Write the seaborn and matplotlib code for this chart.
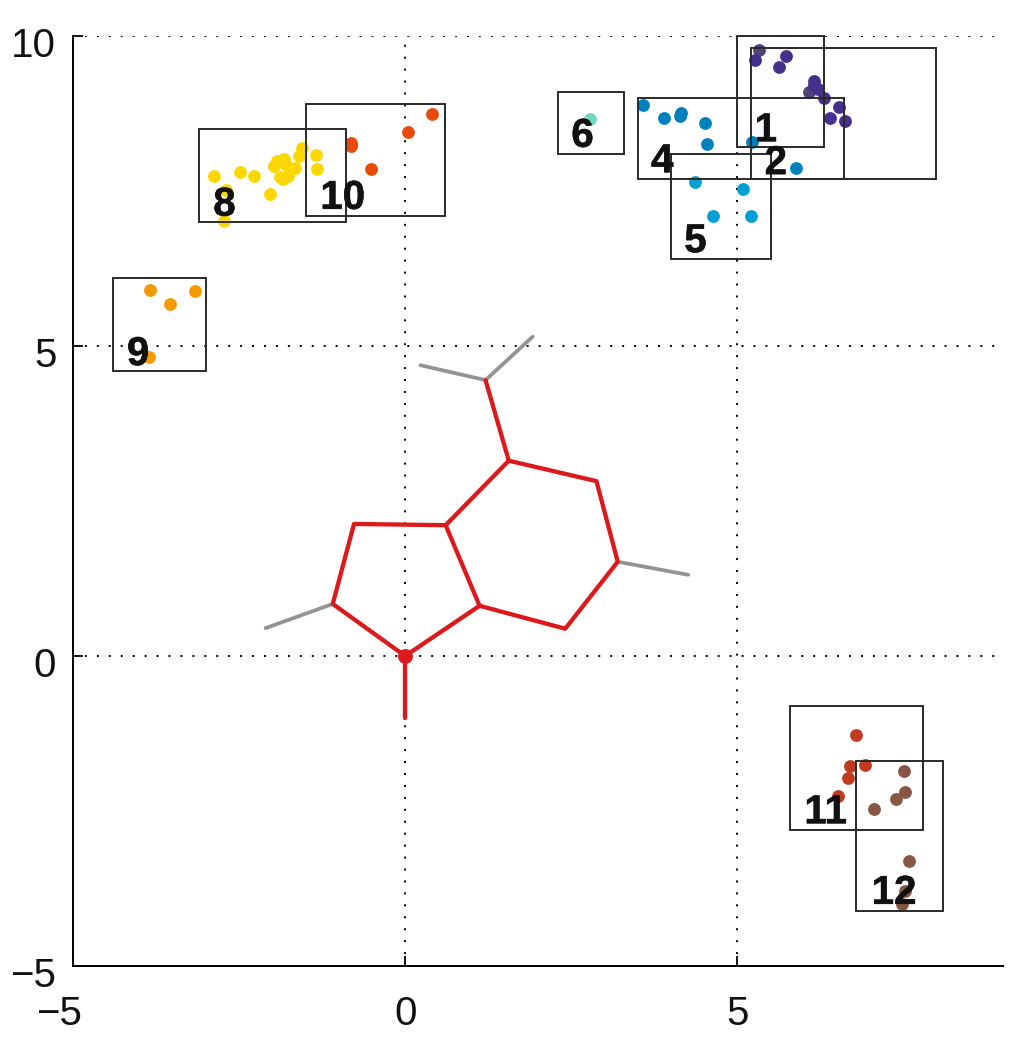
import matplotlib
matplotlib.use("Agg")
import matplotlib.pyplot as plt
import matplotlib.patheffects as pe
import seaborn as sns
from matplotlib.patches import Rectangle
from matplotlib.transforms import ScaledTranslation

# ---------- data ----------
cluster1_x = [5.32, 6.08]
cluster1_y = [9.77, 9.10]
cluster2_x = [5.27, 5.73, 5.63, 6.16, 6.16, 6.21, 6.30, 6.53, 6.39, 6.62]
cluster2_y = [9.62, 9.67, 9.50, 9.27, 9.21, 9.14, 9.00, 8.86, 8.67, 8.63]
cluster4_x = [3.58, 3.89, 4.16, 4.14, 4.52, 4.55, 5.22, 5.88]
cluster4_y = [8.89, 8.68, 8.76, 8.71, 8.60, 8.26, 8.29, 7.87]
cluster5_x = [4.37, 5.09, 4.63, 5.20]
cluster5_y = [7.65, 7.53, 7.10, 7.09]
cluster6_x = [2.78]
cluster6_y = [8.66]
cluster8_x = [-2.88, -2.70, -2.73, -2.49, -2.28, -2.04, -1.60, -1.56, -1.34, -1.33,
              -1.66, -1.76, -1.84, -1.89, -1.98, -1.93, -1.83, -1.80, -1.74]
cluster8_y = [7.74, 7.52, 7.01, 7.80, 7.74, 7.45, 8.06, 8.20, 8.08, 7.85,
              7.87, 7.74, 7.70, 7.73, 7.90, 7.99, 8.01, 7.92, 7.84]
cluster9_x = [-3.84, -3.54, -3.16, -3.86]
cluster9_y = [5.90, 5.68, 5.88, 4.83]
cluster10_x = [-0.82, -0.81, -0.51, 0.04, 0.40]
cluster10_y = [8.27, 8.23, 7.86, 8.45, 8.75]
cluster11_x = [6.78, 6.70, 6.92, 6.67, 6.51]
cluster11_y = [-1.27, -1.78, -1.76, -1.96, -2.26]
cluster12_x = [7.51, 7.52, 7.39, 7.06, 7.58, 7.53, 7.48]
cluster12_y = [-1.85, -2.20, -2.30, -2.46, -3.31, -3.79, -4.00]

cluster_colors = ["#50437a", "#46308e", "#0080bd", "#00a0d2", "#70d8c0",
                  "#fbd800", "#f29a00", "#e84a0a", "#c03a20", "#875644"]

# xmin, xmax, ymin, ymax
box_names = ["1", "2", "4", "5", "6", "8", "9", "10", "11", "12"]
box_x0 = [5.00, 5.20, 3.50, 4.00, 2.30, -3.10, -4.40, -1.50, 5.80, 6.79]
box_x1 = [6.30, 7.99, 6.60, 5.50, 3.30, -0.89, -3.00, 0.60, 7.80, 8.09]
box_y0 = [8.21, 7.70, 7.70, 6.40, 8.10, 7.00, 4.60, 7.10, -2.80, -4.11]
box_y1 = [10.0, 9.80, 9.00, 8.10, 9.10, 8.50, 6.10, 8.90, -0.80, -1.70]
label_x = [5.43, 5.58, 3.87, 4.37, 2.67, -2.72, -4.02, -0.94, 6.33, 7.36]
label_y = [8.48, 7.95, 7.98, 6.69, 8.39, 7.28, 4.87, 7.39, -2.52, -3.82]

# molecule backbone (red) and side groups (gray)
red_paths = [
    ([0, 0], [-1, 0]),
    ([0, -1.09, -0.77, 0.61, 1.12, 0], [0, 0.84, 2.13, 2.11, 0.81, 0]),
    ([0.61, 1.56, 2.88, 3.20, 2.41, 1.12], [2.11, 3.15, 2.82, 1.52, 0.44, 0.81]),
    ([1.56, 1.21], [3.15, 4.45]),
]
gray_paths = [
    ([0.23, 1.21, 1.92], [4.69, 4.45, 5.15]),
    ([3.20, 4.26], [1.52, 1.31]),
    ([-1.09, -2.10], [0.84, 0.45]),
]

x_ticks = [-5, 0, 5]
y_ticks = [-5, 0, 5, 10]

# ---------- style ----------
sns.set_theme(style="white")
plt.rcParams["font.family"] = ["Liberation Sans", "DejaVu Sans"]

fig = plt.figure(figsize=(10.26, 10.5), dpi=100)
ax = fig.add_axes([73 / 1026, 1 - 966 / 1050, 930 / 1026, 930 / 1050])

# ---------- molecule ----------
for px, py in gray_paths:
    sns.lineplot(x=px, y=py, sort=False, estimator=None, color="#939393", linewidth=2.7, ax=ax)
for px, py in red_paths:
    sns.lineplot(x=px, y=py, sort=False, estimator=None, color="#dc1a1c", linewidth=3.1, ax=ax)
sns.scatterplot(x=[0], y=[0], color="#dc1a1c", s=115, linewidth=0, ax=ax, zorder=4)

# ---------- clusters ----------
all_x = [cluster1_x, cluster2_x, cluster4_x, cluster5_x, cluster6_x,
         cluster8_x, cluster9_x, cluster10_x, cluster11_x, cluster12_x]
all_y = [cluster1_y, cluster2_y, cluster4_y, cluster5_y, cluster6_y,
         cluster8_y, cluster9_y, cluster10_y, cluster11_y, cluster12_y]
for cx, cy, col in zip(all_x, all_y, cluster_colors):
    sns.scatterplot(x=cx, y=cy, color=col, s=85, linewidth=0, ax=ax, zorder=3)

# ---------- boxes and labels ----------
for i, name in enumerate(box_names):
    ax.add_patch(Rectangle((box_x0[i], box_y0[i]), box_x1[i] - box_x0[i], box_y1[i] - box_y0[i],
                           fill=False, edgecolor="#2a2a2a", linewidth=1.4, zorder=5, clip_on=False))
    ax.text(label_x[i], label_y[i], name, fontsize=29, fontweight="bold", color="#111111",
            ha="center", va="center", zorder=6,
            path_effects=[pe.withStroke(linewidth=0.4, foreground="#111111")])

# ---------- axes ----------
ax.set_xlim(-5, 9)
ax.set_ylim(-5, 10)
ax.set_xticks(x_ticks)
ax.set_yticks(y_ticks)
ax.grid(True, linestyle=(0, (1, 5.14)), color="black", linewidth=1.4)
ax.set_axisbelow(True)
ax.tick_params(axis="both", direction="in", length=7, width=1.4, left=True, bottom=True,
               labelsize=29, colors="#111111")
ax.tick_params(axis="x", pad=21)
ax.tick_params(axis="y", pad=12)
sns.despine(ax=ax)
for side in ["left", "bottom"]:
    ax.spines[side].set_color("black")
    ax.spines[side].set_linewidth(1.4)

# tick labels sit a little off centre in the original
for lab in ax.get_yticklabels():
    lab.set_transform(lab.get_transform() + ScaledTranslation(0, -4 / 72, fig.dpi_scale_trans))
minus_lab = ax.get_xticklabels()[0]
minus_lab.set_transform(minus_lab.get_transform() + ScaledTranslation(-10 / 72, 0, fig.dpi_scale_trans))

fig.savefig("out.png", dpi=100)
